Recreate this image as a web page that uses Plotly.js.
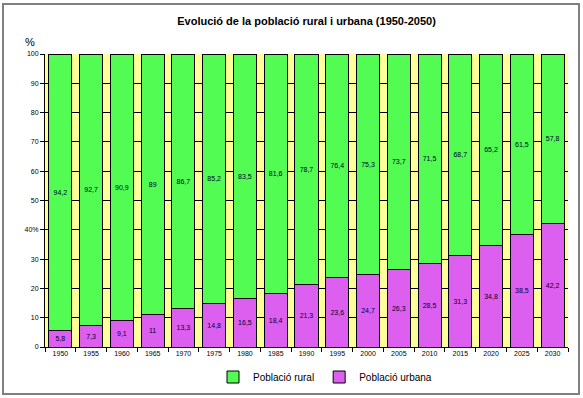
<!DOCTYPE html>
<html>
<head>
<meta charset="utf-8">
<script src="https://cdn.plot.ly/plotly-3.0.1.min.js"></script>
<style>html,body{margin:0;padding:0;background:#fff;}#chart{width:583px;height:398px;}</style>
</head>
<body>
<div id="chart"></div>
<script>
const years = ["1950","1955","1960","1965","1970","1975","1980","1985","1990","1995","2000","2005","2010","2015","2020","2025","2030"];
const urbana = [5.8,7.3,9.1,11,13.3,14.8,16.5,18.4,21.3,23.6,24.7,26.3,28.5,31.3,34.8,38.5,42.2];
const rural = [94.2,92.7,90.9,89,86.7,85.2,83.5,81.6,78.7,76.4,75.3,73.7,71.5,68.7,65.2,61.5,57.8];
const yTickVals = [0,10,20,30,40,50,60,70,80,90,100];
const yTickText = ["0","10","20","30","40%","50","60","70","80","90","100"];
const fmt = v => String(v).replace('.', ',');

const common = {
  type: 'bar',
  x: years,
  textposition: 'inside',
  insidetextanchor: 'middle',
  textangle: 0,
  constraintext: 'none',
  textfont: {family: 'Liberation Sans, Arial, sans-serif', size: 7, color: '#000033'},
  hoverinfo: 'none'
};
const traces = [
  Object.assign({}, common, {
    name: 'Població urbana', y: urbana, text: urbana.map(fmt),
    marker: {color: '#dd5ff0', line: {color: '#000000', width: 1}}
  }),
  Object.assign({}, common, {
    name: 'Població rural', y: rural, text: rural.map(fmt),
    marker: {color: '#52fc52', line: {color: '#000000', width: 1}}
  })
];

const W = 583, H = 398, L = 45, R = 15, T = 54, B = 51;
const pw = W - L - R, ph = H - T - B;

const layout = {
  width: W, height: H,
  margin: {l: L, r: R, t: T, b: B, autoexpand: false},
  paper_bgcolor: '#ffffff',
  plot_bgcolor: '#ffff99',
  barmode: 'stack',
  bargap: 0.25,
  font: {family: 'Liberation Sans, Arial, sans-serif', color: '#000'},
  title: {
    text: '<b>Evolució de la població rural i urbana (1950-2050)</b>',
    font: {size: 11, color: '#000'},
    x: 0.5, xref: 'paper', xanchor: 'center',
    y: 1 - 21/398, yref: 'container', yanchor: 'middle'
  },
  xaxis: {
    type: 'category',
    tickson: 'boundaries',
    ticks: 'outside', ticklen: 4, tickcolor: '#000', tickwidth: 1,
    tickfont: {size: 7},
    showline: true, linecolor: '#000', linewidth: 1,
    showgrid: false, zeroline: false, fixedrange: true
  },
  yaxis: {
    range: [0, 100],
    tickvals: yTickVals, ticktext: yTickText,
    ticks: 'outside', ticklen: 4, tickcolor: '#000', tickwidth: 1,
    tickfont: {size: 7},
    showline: true, linecolor: '#000', linewidth: 1,
    showgrid: true, gridcolor: '#000', gridwidth: 1,
    zeroline: false, fixedrange: true
  },
  legend: {
    orientation: 'h', traceorder: 'reversed',
    x: (325 - L)/pw, xanchor: 'center', xref: 'paper',
    y: 1 - 377/398, yref: 'container', yanchor: 'middle',
    bgcolor: 'rgba(0,0,0,0)',
    font: {size: 10},
    itemwidth: 30
  },
  annotations: [{
    text: '%', xref: 'paper', yref: 'paper', x: (30 - L)/pw, y: (H - B - 42)/ph,
    xanchor: 'center', yanchor: 'middle', showarrow: false,
    font: {size: 11, color: '#000'}
  }],
  shapes: [{
    type: 'rect', xref: 'paper', yref: 'paper',
    x0: (3 - L)/pw, x1: (579 - L)/pw, y0: (H - B - 394)/ph, y1: (H - B - 4)/ph,
    line: {color: '#808080', width: 2}, fillcolor: 'rgba(0,0,0,0)', layer: 'below'
  }]
};

Plotly.newPlot('chart', traces, layout, {displayModeBar: false, staticPlot: true});
</script>
</body>
</html>
